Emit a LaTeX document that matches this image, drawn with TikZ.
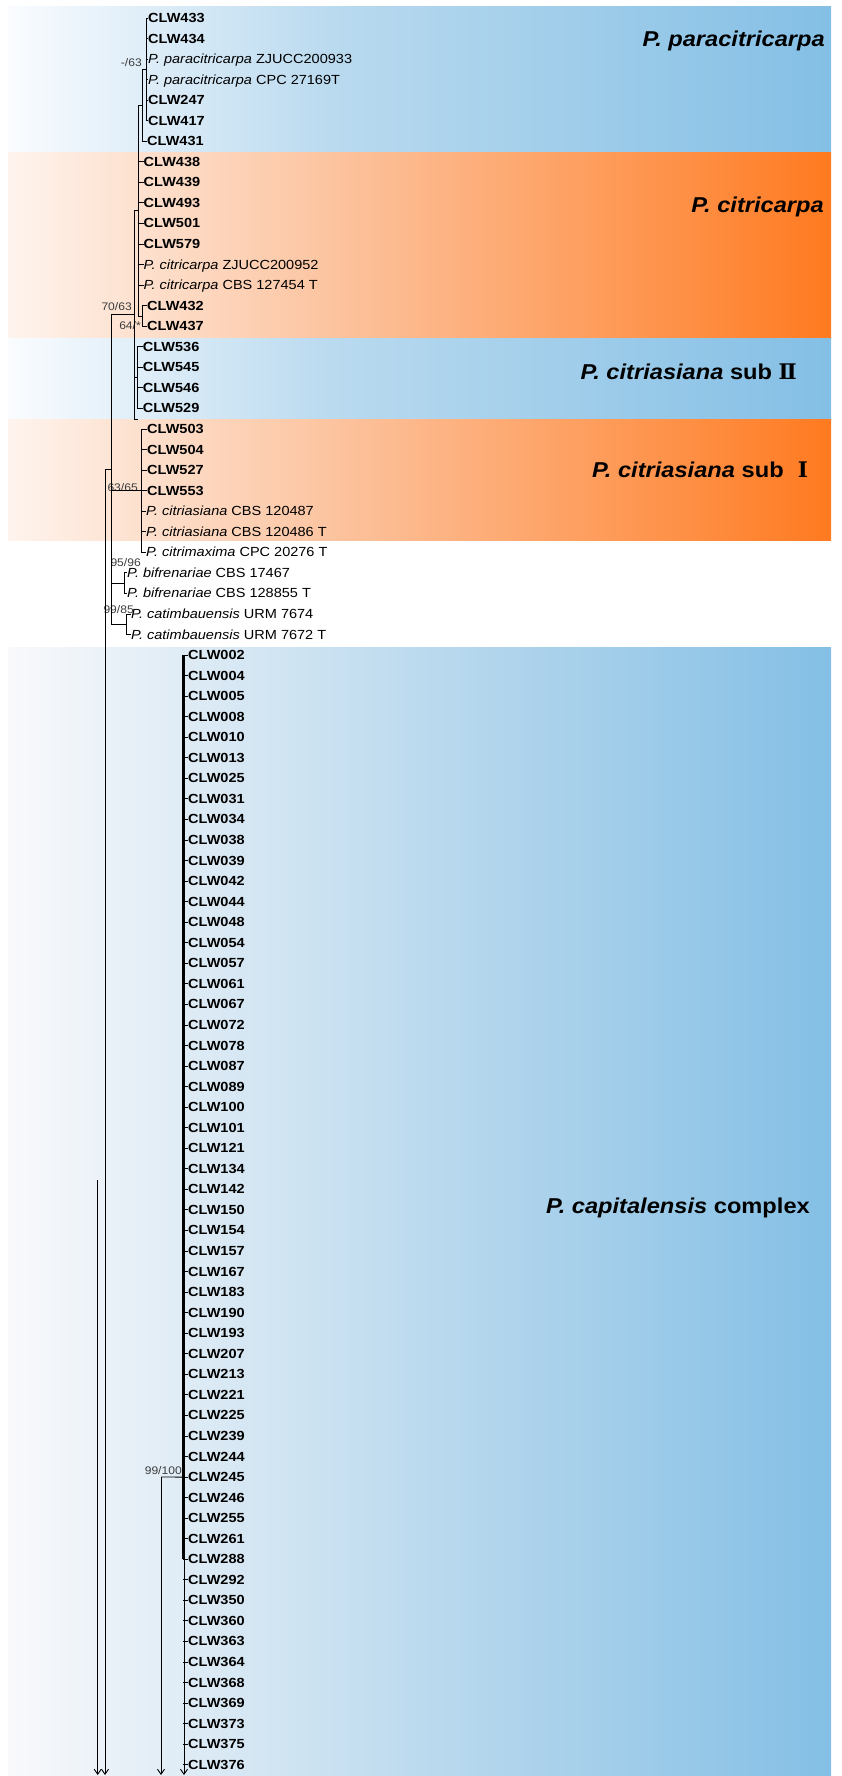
\documentclass[tikz,border=0pt]{standalone}
\usepackage{fontspec}
\setmainfont{Liberation Sans}[FakeStretch=1.1]
\newfontfamily\numfont{DejaVu Serif}
\usetikzlibrary{arrows.meta}
\definecolor{bluepale}{RGB}{250,252,255}
\definecolor{bluemid}{RGB}{186,218,239}
\definecolor{bluedeep}{RGB}{132,191,229}
\definecolor{orangepale}{RGB}{254,244,238}
\definecolor{orangemid}{RGB}{252,196,160}
\definecolor{orangedeep}{RGB}{255,122,32}
\definecolor{cappale}{RGB}{249,249,251}
\definecolor{capmid}{RGB}{188,218,238}
\definecolor{bootgray}{RGB}{60,60,60}
\newcommand\clw[1]{\textbf{CLW#1}}
\newcommand\spc[2]{\textit{P. #1} #2}
\tikzset{
  tip/.style={anchor=west, inner sep=0pt, text height=9pt, text depth=0pt,
    font=\fontsize{13.2}{14}\selectfont},
  branch/.style={line width=0.9pt},
  cut/.style={branch, -{Straight Barb[length=5pt,width=7pt]}},
  boot/.style={anchor=east, inner sep=0pt, text height=8pt, text depth=0pt,
    font=\fontsize{11}{12}\selectfont, text=bootgray},
  clade/.style={anchor=east, inner sep=0pt, text height=15.5pt, text depth=0pt,
    font=\bfseries\fontsize{21.5}{24}\selectfont}
}
\begin{document}
\begin{tikzpicture}[x=1pt,y=-1pt]
\useasboundingbox (0,0) rectangle (842,1776);
% coloured clade bands
\shade[left color=bluepale,right color=bluemid] (8,7) rectangle (330,153);
\shade[left color=bluemid,right color=bluedeep] (329.5,7) rectangle (831,153);
\shade[left color=orangepale,right color=orangemid] (8,153) rectangle (330,338);
\shade[left color=orangemid,right color=orangedeep] (329.5,153) rectangle (831,338);
\shade[left color=bluepale,right color=bluemid] (8,338) rectangle (330,419);
\shade[left color=bluemid,right color=bluedeep] (329.5,338) rectangle (831,419);
\shade[left color=orangepale,right color=orangemid] (8,419) rectangle (330,540);
\shade[left color=orangemid,right color=orangedeep] (329.5,419) rectangle (831,540);
\shade[left color=cappale,right color=capmid] (8,647) rectangle (420,1776);
\shade[left color=capmid,right color=bluedeep] (419.5,647) rectangle (831,1776);

% clade names
\node[clade] (cpara) at (825,39) {\textit{P. paracitricarpa}};
\node[clade] (ccitri) at (824,205) {\textit{P. citricarpa}};
\node[clade] (csubb) at (797,372) {\textit{P. citriasiana} sub {\numfont Ⅱ}};
\node[clade] (csuba) at (808,470) {\textit{P. citriasiana} sub {\numfont\ Ⅰ}};
\node[clade] (ccap) at (810,1206) {\textit{P. capitalensis} complex};

% tips
\foreach \lab [count=\i from 1] in {\clw{433},\clw{434},
    {\spc{paracitricarpa}{ZJUCC200933}},{\spc{paracitricarpa}{CPC 27169T}},
    \clw{247},\clw{417}}
  \node[tip] (t\i) at (148,{18+(\i-1)*20.55}) {\lab};
\node[tip] (t7) at (147,141.3) {\clw{431}};
\foreach \lab [count=\i from 8] in {\clw{438},\clw{439},\clw{493},\clw{501},\clw{579},
    {\spc{citricarpa}{ZJUCC200952}},{\spc{citricarpa}{CBS 127454 T}}}
  \node[tip] (t\i) at (143.5,{18+(\i-1)*20.55}) {\lab};
\foreach \lab [count=\i from 15] in {\clw{432},\clw{437}}
  \node[tip] (t\i) at (147,{18+(\i-1)*20.55}) {\lab};
\foreach \lab [count=\i from 17] in {\clw{536},\clw{545},\clw{546},\clw{529}}
  \node[tip] (t\i) at (142.7,{18+(\i-1)*20.55}) {\lab};
\foreach \lab [count=\i from 21] in {\clw{503},\clw{504},\clw{527},\clw{553}}
  \node[tip] (t\i) at (147,{18+(\i-1)*20.55}) {\lab};
\foreach \lab [count=\i from 25] in {{\spc{citriasiana}{CBS 120487}},
    {\spc{citriasiana}{CBS 120486 T}},{\spc{citrimaxima}{CPC 20276 T}}}
  \node[tip] (t\i) at (146,{18+(\i-1)*20.55}) {\lab};
\foreach \lab [count=\i from 28] in {{\spc{bifrenariae}{CBS 17467}},
    {\spc{bifrenariae}{CBS 128855 T}}}
  \node[tip] (t\i) at (127,{18+(\i-1)*20.55}) {\lab};
\foreach \lab [count=\i from 30] in {{\spc{catimbauensis}{URM 7674}},
    {\spc{catimbauensis}{URM 7672 T}}}
  \node[tip] (t\i) at (131,{18+(\i-1)*20.55}) {\lab};
\foreach \lab [count=\i from 32] in {002,004,005,008,010,013,025,031,034,038,
    039,042,044,048,054,057,061,067,072,078,087,089,100,101,121,134,142,150,
    154,157,167,183,190,193,207,213,221,225,239,244,245,246,255,261,288,292,
    350,360,363,364,368,369,373,375,376}
  \node[tip] (t\i) at (188,{18+(\i-1)*20.55}) {\clw{\lab}};

% support values
\node[boot] (b1) at (142,63) {-/63};
\node[boot] (b2) at (132,306) {70/63};
\node[boot] (b3) at (141,326) {64/*};
\node[boot] (b4) at (138,487) {63/65};
\node[boot] (b5) at (141,562) {95/96};
\node[boot] (b6) at (134,609) {99/85};
\node[boot] (b7) at (182,1470) {99/100};

% internal nodes
\coordinate (nA) at (146,69.4);
\coordinate (nB) at (142,105.3);
\coordinate (nC) at (138,210.7);
\coordinate (nD) at (142.7,316);
\coordinate (nE) at (134.7,314);
\coordinate (nF) at (137.7,377.6);
\coordinate (nG) at (138,419);
\coordinate (nH) at (141.7,490.6);
\coordinate (nI) at (124,583.1);
\coordinate (nJ) at (126.7,624.2);
\coordinate (nN) at (111.7,469);
\coordinate (nR) at (105,469);
\coordinate (nS) at (97.7,1180);
\coordinate (nK) at (183.3,1110);
\coordinate (nL) at (161,1477);
\coordinate (e1) at (97.7,1775);
\coordinate (e2) at (105,1775);
\coordinate (e3) at (161,1775);
\coordinate (e4) at (184,1775);

% branches
\foreach \i in {1,...,6} \draw[branch] (nA) |- (t\i.west);
\draw[branch] (nB) |- (nA);
\draw[branch] (nB) |- (t7.west);
\draw[branch] (nD) |- (t15.west);
\draw[branch] (nD) |- (t16.west);
\draw[branch] (nC) |- (nB);
\foreach \i in {8,...,14} \draw[branch] (nC) |- (t\i.west);
\draw[branch] (nC) |- (nD);
\foreach \i in {17,...,20} \draw[branch] (nF) |- (t\i.west);
\draw[branch] (nE) |- (nC);
\draw[branch] (nE) |- (nF);
\draw[branch] (nE) |- (nG);
\foreach \i in {21,...,27} \draw[branch] (nH) |- (t\i.west);
\draw[branch] (nI) |- (t28.west);
\draw[branch] (nI) |- (t29.west);
\draw[branch] (nJ) |- (t30.west);
\draw[branch] (nJ) |- (t31.west);
\draw[branch] (nN) |- (nE);
\draw[branch] (nN) |- (nH);
\draw[branch] (nN) |- (nI);
\draw[branch] (nN) |- (nJ);
\draw[branch] (nR) -- (nN);
\draw[cut] (nR) -- (e2);
\draw[cut] (nS) -- (e1);
\draw[line width=2.4pt] (t32.west -| nK) -- (t76.west -| nK);
\foreach \i in {32,...,86} \draw[branch] (t\i.west -| nK) -- (t\i.west);
\draw[branch] (nL) -- (t72.west -| nK);
\draw[cut] (nL) -- (e3);
\draw[cut] (t72.west -| e4) -- (e4);
\end{tikzpicture}
\end{document}
